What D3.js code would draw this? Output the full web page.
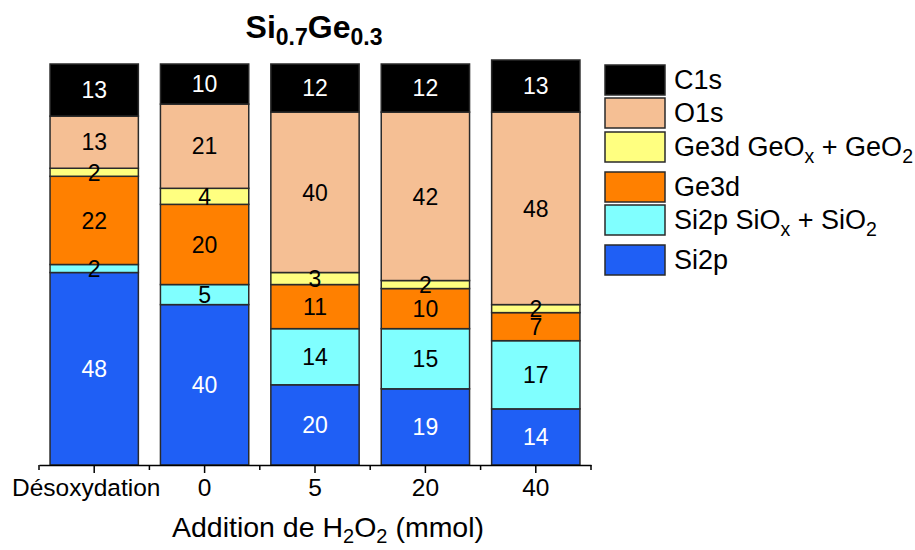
<!DOCTYPE html>
<html>
<head>
<meta charset="utf-8">
<script src="https://cdn.jsdelivr.net/npm/d3@7"></script>
<style>
  body { margin: 0; background: #fff; }
  text { font-family: Arial, "Liberation Sans", sans-serif; }
</style>
</head>
<body>
<div id="chart"></div>
<script>
// categories on the x axis
var categories = ["Désoxydation", "0", "5", "20", "40"];

// series values (bottom to top of each stack)
var si2p   = [48, 40, 20, 19, 14];
var si2pOx = [2, 5, 14, 15, 17];
var ge3d   = [22, 20, 11, 10, 7];
var ge3dOx = [2, 4, 3, 2, 2];
var o1s    = [13, 21, 40, 42, 48];
var c1s    = [13, 10, 12, 12, 13];

var seriesKeys = ["si2p", "si2pOx", "ge3d", "ge3dOx", "o1s", "c1s"];
var seriesValues = [si2p, si2pOx, ge3d, ge3dOx, o1s, c1s];
var colors = ["#1f5ff5", "#80ffff", "#ff8000", "#ffff80", "#f5bf94", "#000000"];
var textColors = ["#fff", "#000", "#000", "#000", "#000", "#fff"];

var W = 915, H = 550;
var svg = d3.select("#chart").append("svg")
    .attr("width", W)
    .attr("height", H);

// build rows for d3.stack
var rows = categories.map(function(c, i) {
  var r = { cat: c };
  seriesKeys.forEach(function(k, j) { r[k] = seriesValues[j][i]; });
  return r;
});
var stacked = d3.stack().keys(seriesKeys)(rows);

var x = d3.scaleBand()
    .domain(categories)
    .range([39, 591])
    .paddingInner(0.2)
    .paddingOuter(0.1);

var y = d3.scaleLinear()
    .domain([0, 100])
    .range([465, 64]);

// bars
var layers = svg.append("g").selectAll("g")
    .data(stacked)
  .enter().append("g")
    .attr("fill", function(d, i) { return colors[i]; });

layers.selectAll("rect")
    .data(function(d) { return d; })
  .enter().append("rect")
    .attr("x", function(d) { return x(d.data.cat); })
    .attr("y", function(d) { return y(d[1]); })
    .attr("width", x.bandwidth())
    .attr("height", function(d) { return y(d[0]) - y(d[1]); })
    .attr("stroke", "#2a2a2a")
    .attr("stroke-width", 1.5);

// value labels
stacked.forEach(function(layer, i) {
  svg.append("g").selectAll("text")
      .data(layer)
    .enter().append("text")
      .attr("x", function(d) { return x(d.data.cat) + x.bandwidth() / 2; })
      .attr("y", function(d) { return (y(d[0]) + y(d[1])) / 2; })
      .attr("dy", "0.36em")
      .attr("text-anchor", "middle")
      .attr("font-size", 23)
      .attr("fill", textColors[i])
      .text(function(d) { return d[1] - d[0]; });
});

// x axis
var xAxis = svg.append("g")
    .attr("transform", "translate(0,465)")
    .call(d3.axisBottom(x).tickSize(8).tickSizeOuter(0).tickPadding(6));
xAxis.select(".domain").attr("stroke", "#000").attr("stroke-width", 1.5);
xAxis.selectAll(".tick line").attr("stroke-width", 1.5);
xAxis.selectAll(".tick text")
    .attr("font-size", 24.5)
    .attr("font-family", "Arial, 'Liberation Sans', sans-serif")
    .attr("fill", "#000")
    .attr("dx", function(d, i) { return i === 0 ? -8 : 0; });

// minor ticks at band edges
var step = x.step();
var minor = d3.range(categories.length + 1).map(function(i) { return 39 + i * step; });
svg.append("g").selectAll("line")
    .data(minor)
  .enter().append("line")
    .attr("x1", function(d) { return d; })
    .attr("x2", function(d) { return d; })
    .attr("y1", 465)
    .attr("y2", 470)
    .attr("stroke", "#000")
    .attr("stroke-width", 1.5);

// axis title
var xt = svg.append("text")
    .attr("x", 328)
    .attr("y", 537)
    .attr("text-anchor", "middle")
    .attr("font-size", 28.5);
xt.append("tspan").text("Addition de H");
xt.append("tspan").attr("dy", 6).attr("font-size", 20).text("2");
xt.append("tspan").attr("dy", -6).text("O");
xt.append("tspan").attr("dy", 6).attr("font-size", 20).text("2");
xt.append("tspan").attr("dy", -6).text(" (mmol)");

// title
var tt = svg.append("text")
    .attr("x", 314)
    .attr("y", 38)
    .attr("text-anchor", "middle")
    .attr("font-size", 32)
    .attr("font-weight", "bold");
tt.append("tspan").text("Si");
tt.append("tspan").attr("dy", 7).attr("font-size", 23).text("0.7");
tt.append("tspan").attr("dy", -7).text("Ge");
tt.append("tspan").attr("dy", 7).attr("font-size", 23).text("0.3");

// legend
var legendItems = [
  { label: [["C1s", 0]], color: colors[5], y: 65 },
  { label: [["O1s", 0]], color: colors[4], y: 98 },
  { label: [["Ge3d GeO", 0], ["x", 1], [" + GeO", 0], ["2", 1]], color: colors[3], y: 132 },
  { label: [["Ge3d", 0]], color: colors[2], y: 172 },
  { label: [["Si2p SiO", 0], ["x", 1], [" + SiO", 0], ["2", 1]], color: colors[1], y: 205 },
  { label: [["Si2p", 0]], color: colors[0], y: 245 }
];
var lg = svg.append("g").selectAll("g")
    .data(legendItems)
  .enter().append("g")
    .attr("transform", function(d) { return "translate(605," + d.y + ")"; });
lg.append("rect")
    .attr("width", 60)
    .attr("height", 30)
    .attr("fill", function(d) { return d.color; })
    .attr("stroke", "#2a2a2a")
    .attr("stroke-width", 1.5);
lg.each(function(d) {
  var t = d3.select(this).append("text")
      .attr("x", 69)
      .attr("y", 24)
      .attr("font-size", 27);
  var prev = 0;
  d.label.forEach(function(p) {
    var shift = p[1] ? 7 : 0;
    t.append("tspan")
        .attr("dy", shift - prev)
        .attr("font-size", p[1] ? 19.5 : 27)
        .text(p[0]);
    prev = shift;
  });
});
</script>
</body>
</html>
